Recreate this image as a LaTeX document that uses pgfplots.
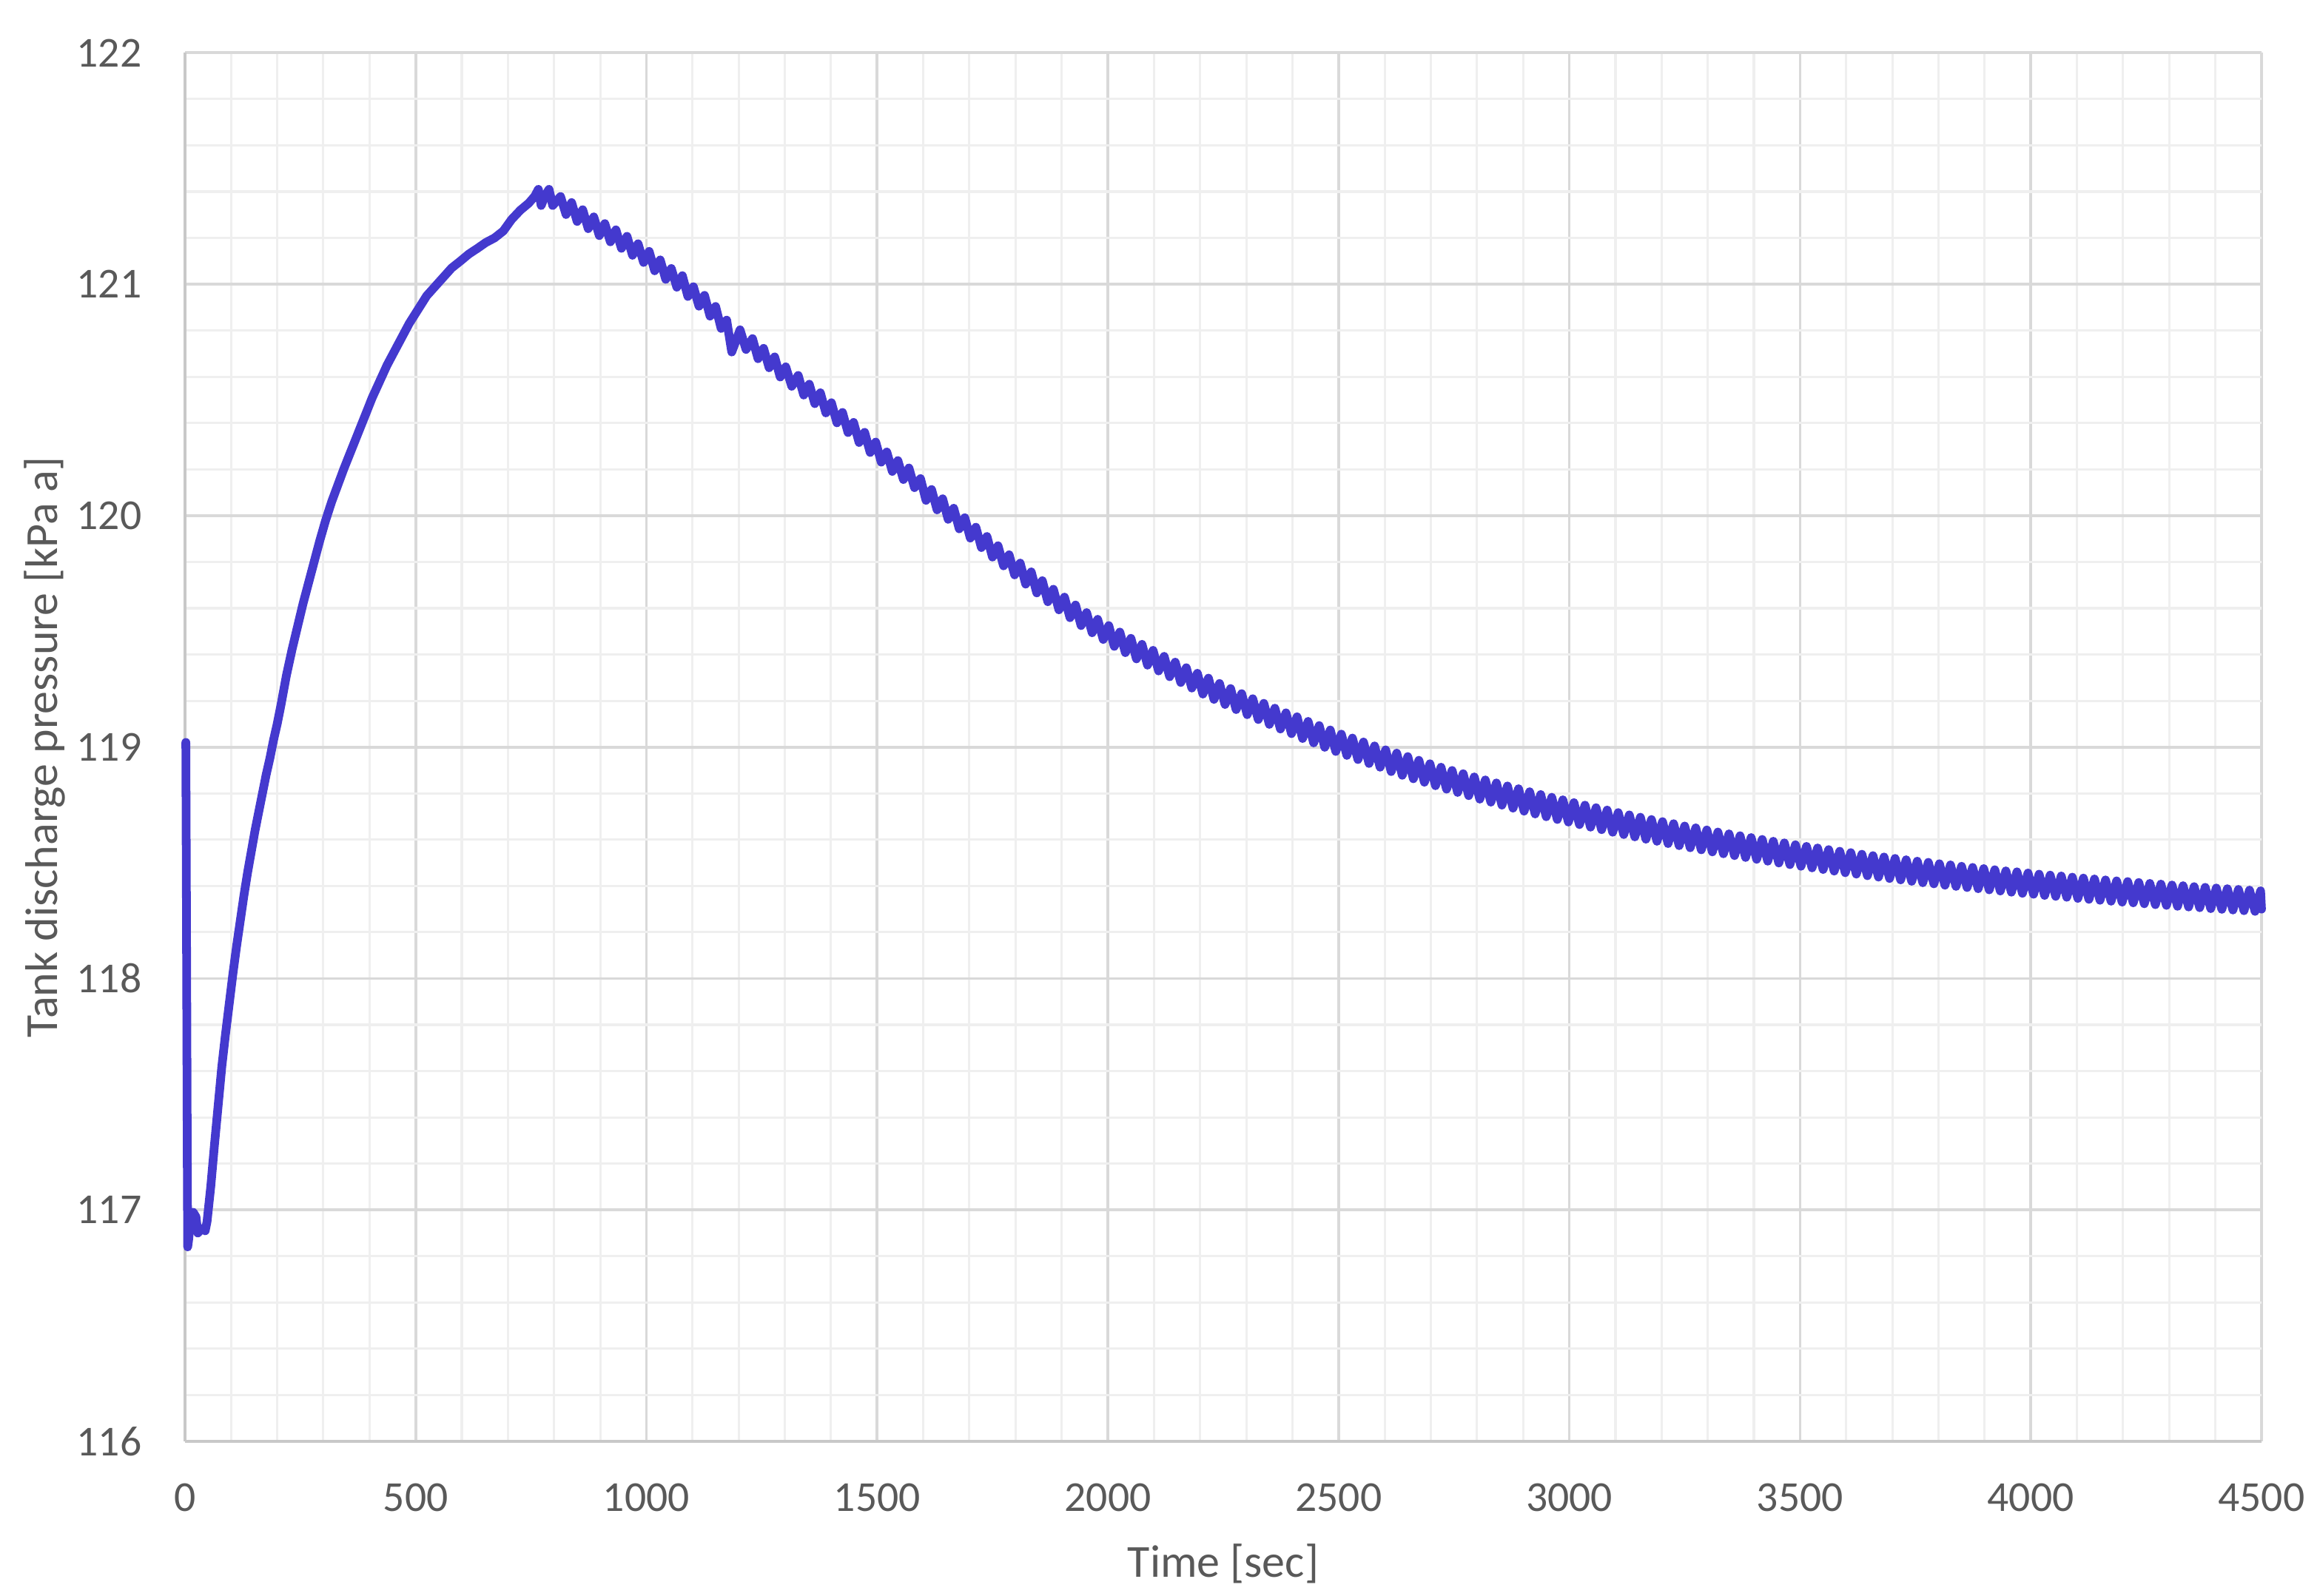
\documentclass[border=0pt]{standalone}
\usepackage{pgfplots}
\pgfplotsset{compat=1.18}
\usepackage{fontspec}
\setmainfont{Carlito}
\definecolor{txt}{HTML}{595959}
\definecolor{majgrid}{HTML}{D9D9D9}
\definecolor{mingrid}{HTML}{EFEFEF}
\definecolor{axline}{HTML}{C8C8C8}
\definecolor{linecol}{RGB}{68,57,206}
\begin{document}
\begin{tikzpicture}
\useasboundingbox (0,0) rectangle (505.65pt,347.9pt);
\begin{axis}[
  at={(40.3pt,33.7pt)}, anchor=south west,
  scale only axis, width=452.6pt, height=302.7pt,
  xmin=0, xmax=4500, ymin=116, ymax=122,
  xtick={0,500,...,4500}, ytick={116,117,...,122},
  minor x tick num=4, minor y tick num=4,
  grid=both,
  major grid style={majgrid, line width=0.6pt},
  minor grid style={mingrid, line width=0.5pt},
  axis lines*=left,
  axis line style={-, axline, line width=0.6pt},
  every outer x axis line/.append style={-},
  every outer y axis line/.append style={-},
  every inner x axis line/.append style={-},
  every inner y axis line/.append style={-},
  major tick length=0pt, minor tick length=0pt,
  tick label style={font=\fontsize{9.3}{11}\selectfont, text=txt},
  /pgf/number format/assume math mode=true,
  /pgf/number format/1000 sep={},
  xticklabel style={yshift=-5.7pt},
  yticklabel style={xshift=-5.9pt},
  xlabel={Time [sec]}, ylabel={Tank discharge pressure [kPa a]},
  label style={font=\fontsize{10}{12}\selectfont, text=txt},
  xlabel style={at={(axis description cs:0.5,0)}, anchor=base, yshift=-29.6pt},
  ylabel style={at={(axis description cs:-0.0616,0.5)}, anchor=base},
  clip=false,
]
\addplot[linecol, line width=1.9pt, line join=round, line cap=round, mark=none] coordinates {
(2,119.02) (3,118.5) (5,117.3) (6,116.84) (8,116.87) (11,116.93) (18,116.99) (24,116.97) (28,116.90) (36,116.92) (44,116.91) (48,116.95)
(56,117.10) (64,117.28) (72,117.45) (80,117.62) (88,117.76) (96,117.89) (104,118.02) (112,118.14) (120,118.25) (128,118.36)
(136,118.46) (144,118.55) (152,118.64) (160,118.72) (168,118.80) (176,118.88) (184,118.95) (192,119.03) (200,119.10) (208,119.18)
(220,119.31) (232,119.42) (244,119.52) (256,119.62) (268,119.71) (280,119.80) (292,119.89) (305,119.98) (318,120.06) (331,120.13)
(344,120.20) (358,120.27) (374,120.35) (390,120.43) (406,120.51) (422,120.58) (438,120.65) (454,120.71) (470,120.77) (486,120.83)
(505,120.89) (524,120.95) (542,120.99) (560,121.03) (578,121.07) (597,121.10) (615,121.13) (634,121.155) (652,121.18) (671,121.20)
(690,121.23) (708,121.28) (727,121.32) (745,121.35) (758,121.38) (766,121.41) (772,121.34) (780,121.38) (789,121.41) (797,121.34)
(814,121.379) (826,121.301) (838,121.353) (850,121.271) (862,121.322) (874,121.240) (886,121.291) (898,121.210) (910,121.262)
(922,121.183) (934,121.235) (946,121.155) (958,121.207) (970,121.125) (982,121.175) (994,121.094) (1006,121.142) (1018,121.058)
(1030,121.105) (1042,121.021) (1054,121.068) (1066,120.987) (1078,121.037) (1090,120.947) (1102,120.989) (1114,120.905)
(1126,120.952) (1138,120.862) (1150,120.904) (1162,120.809) (1174,120.845) (1185,120.707) (1203,120.803) (1216,120.718)
(1230,120.765) (1242,120.678) (1254,120.723) (1266,120.639) (1278,120.686) (1290,120.599) (1302,120.643) (1315,120.559)
(1329,120.606) (1341,120.521) (1353,120.568) (1365,120.484) (1377,120.531) (1389,120.444) (1401,120.488) (1413,120.401)
(1425,120.446) (1437,120.359) (1449,120.403) (1461,120.316) (1473,120.360) (1485,120.273) (1497,120.318) (1509,120.231)
(1521,120.275) (1533,120.191) (1545,120.238) (1557,120.156) (1569,120.206) (1581,120.121) (1594,120.160)
(1606,120.066) (1618,120.113) (1630,120.025) (1642,120.073) (1654,119.984) (1666,120.032) (1678,119.943) (1690,119.991)
(1702,119.903) (1714,119.950) (1726,119.862) (1738,119.910) (1750,119.821) (1762,119.870) (1774,119.783) (1786,119.831)
(1798,119.744) (1810,119.795) (1822,119.704) (1834,119.757) (1846,119.666) (1858,119.719) (1870,119.628) (1882,119.682)
(1894,119.593) (1906,119.648) (1918,119.559) (1930,119.614) (1942,119.525) (1954,119.581) (1966,119.494) (1978,119.552)
(1990,119.465)
(2002,119.525) (2014,119.435) (2026,119.497) (2038,119.408) (2050,119.470) (2062,119.381) (2074,119.444) (2086,119.354)
(2098,119.418) (2110,119.329) (2122,119.392) (2134,119.304) (2146,119.367) (2158,119.279) (2170,119.343) (2182,119.255)
(2194,119.319) (2206,119.229) (2218,119.298) (2230,119.206) (2242,119.275) (2254,119.184) (2266,119.253) (2278,119.162)
(2290,119.231) (2302,119.140) (2314,119.209) (2326,119.119) (2338,119.189) (2350,119.098) (2362,119.168) (2374,119.078)
(2386,119.148) (2398,119.058) (2410,119.131) (2422,119.037) (2434,119.111) (2446,119.018) (2458,119.093) (2470,118.999)
(2482,119.074) (2494,118.981) (2506,119.056) (2518,118.964) (2530,119.039) (2542,118.946) (2554,119.022) (2566,118.929)
(2578,119.005) (2590,118.913) (2602,118.988) (2614,118.894) (2626,118.974) (2638,118.878) (2650,118.959) (2662,118.863)
(2674,118.943) (2686,118.848) (2698,118.928) (2710,118.833) (2722,118.913) (2734,118.818) (2746,118.899) (2758,118.804)
(2770,118.885) (2782,118.790) (2794,118.871) (2806,118.775) (2818,118.858) (2830,118.762) (2842,118.845) (2854,118.749)
(2866,118.832) (2878,118.736) (2890,118.820) (2902,118.723) (2914,118.807) (2926,118.711) (2938,118.795) (2950,118.699)
(2962,118.783) (2974,118.687) (2986,118.772) (2998,118.676) (3010,118.760) (3022,118.665) (3034,118.749) (3046,118.654)
(3058,118.738) (3070,118.643) (3082,118.728) (3094,118.632) (3106,118.717) (3118,118.622) (3130,118.707) (3142,118.612)
(3154,118.697) (3166,118.602) (3178,118.687) (3190,118.593) (3202,118.678) (3214,118.583) (3226,118.669) (3238,118.574)
(3250,118.659) (3262,118.565) (3274,118.651) (3286,118.556) (3298,118.642) (3310,118.547) (3322,118.633) (3334,118.539)
(3346,118.625) (3358,118.531) (3370,118.617) (3382,118.523) (3394,118.609) (3406,118.515) (3418,118.601) (3430,118.507)
(3442,118.593) (3454,118.499) (3466,118.586) (3478,118.492) (3490,118.578) (3502,118.485) (3514,118.571) (3526,118.478)
(3538,118.564) (3550,118.471) (3562,118.557) (3574,118.464) (3586,118.550) (3598,118.457) (3610,118.544) (3622,118.451)
(3634,118.537) (3646,118.444) (3658,118.531) (3670,118.438) (3682,118.525) (3694,118.432) (3706,118.519) (3718,118.426)
(3730,118.513) (3742,118.420) (3754,118.507) (3766,118.414) (3778,118.502) (3790,118.409) (3802,118.496) (3814,118.403)
(3826,118.491) (3838,118.398) (3850,118.485) (3862,118.393) (3874,118.480) (3886,118.388) (3898,118.475) (3910,118.383)
(3922,118.470) (3934,118.378) (3946,118.465) (3958,118.373) (3970,118.461) (3982,118.368) (3994,118.456) (4006,118.364)
(4018,118.451) (4030,118.359) (4042,118.447) (4054,118.355) (4066,118.443) (4078,118.351) (4090,118.438) (4102,118.346)
(4114,118.434) (4126,118.342) (4138,118.430) (4150,118.338) (4162,118.426) (4174,118.334) (4186,118.422) (4198,118.330)
(4210,118.419) (4222,118.327) (4234,118.415) (4246,118.323) (4258,118.411) (4270,118.319) (4282,118.408) (4294,118.316)
(4306,118.404) (4318,118.312) (4330,118.401) (4342,118.309) (4354,118.397) (4366,118.306) (4378,118.394) (4390,118.302)
(4402,118.391) (4414,118.299) (4426,118.388) (4438,118.296) (4450,118.385) (4462,118.293) (4474,118.382) (4486,118.290)
(4498,118.379) (4500,118.30)
};
\end{axis}
\end{tikzpicture}
\end{document}
